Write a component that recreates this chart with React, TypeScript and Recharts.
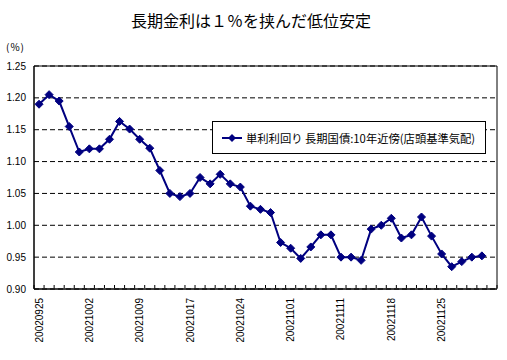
import React from 'react'
import {
  LineChart,
  Line,
  XAxis,
  YAxis,
  CartesianGrid,
  ReferenceArea,
  Legend,
} from 'recharts'

const dates = [
  '20020925', '20020926', '20020927', '20020930', '20021001',
  '20021002', '20021003', '20021004', '20021007', '20021008',
  '20021009', '20021010', '20021011', '20021015', '20021016',
  '20021017', '20021018', '20021021', '20021022', '20021023',
  '20021024', '20021025', '20021028', '20021029', '20021031',
  '20021101', '20021105', '20021106', '20021107', '20021108',
  '20021111', '20021112', '20021113', '20021114', '20021115',
  '20021118', '20021119', '20021120', '20021121', '20021122',
  '20021125', '20021126', '20021127', '20021128', '20021129',
]

const yields = [
  1.19, 1.205, 1.195, 1.155, 1.115,
  1.12, 1.12, 1.135, 1.163, 1.151,
  1.135, 1.121, 1.086, 1.05, 1.045,
  1.05, 1.075, 1.065, 1.08, 1.065,
  1.06, 1.03, 1.025, 1.02, 0.973,
  0.964, 0.948, 0.966, 0.985, 0.985,
  0.95, 0.95, 0.945, 0.994, 1.0,
  1.011, 0.98, 0.985, 1.013, 0.983,
  0.955, 0.935, 0.943, 0.95, 0.952,
]

const yTicks = [0.9, 0.95, 1.0, 1.05, 1.1, 1.15, 1.2, 1.25]
const slotCount = 46 // one empty slot at the right end
const labelTicks = [0, 5, 10, 15, 20, 25, 30, 35, 40]
const boundaryTicks = Array.from({ length: slotCount + 1 }, (_, i) => i - 0.5)

const seriesName = '単利利回り 長期国債:10年近傍(店頭基準気配)'
const NAVY = '#000080'

const data = yields.map((v, i) => ({ idx: i, date: dates[i], value: v }))

const numFont = '"Liberation Sans", Arial, sans-serif'
const jpFont = '"Noto Sans CJK JP", sans-serif'

const Diamond = (props: any) => {
  const { cx, cy } = props
  if (cx == null || cy == null) return null
  return (
    <path
      d={`M${cx},${cy - 4} L${cx + 4},${cy} L${cx},${cy + 4} L${cx - 4},${cy} Z`}
      fill={NAVY}
      stroke={NAVY}
    />
  )
}

// inward tick mark at each category boundary
const BoundaryTick = (props: any) => {
  const { x, y } = props
  return <line x1={x} x2={x} y1={y - 1} y2={y - 4} stroke="#000" strokeWidth={1} />
}

const DateTick = (props: any) => {
  const { x, y, payload } = props
  const label = dates[payload.value] ?? ''
  return (
    <text
      x={x}
      y={y}
      dy="0.35em"
      transform={`rotate(-90 ${x} ${y})`}
      textAnchor="end"
      fill="#000"
      fontSize={10}
      fontFamily={numFont}
    >
      {label}
    </text>
  )
}

const renderLegend = () => (
  <div
    style={{
      display: 'flex',
      alignItems: 'center',
      height: '100%',
      paddingLeft: 8,
      fontFamily: jpFont,
      fontSize: 11.3,
      color: '#000',
      whiteSpace: 'nowrap',
    }}
  >
    <svg width={22} height={10} style={{ marginRight: 3 }}>
      <line x1={1} y1={5} x2={21} y2={5} stroke={NAVY} strokeWidth={2} />
      <path d="M11,1 L15,5 L11,9 L7,5 Z" fill={NAVY} />
    </svg>
    <span>{seriesName}</span>
  </div>
)

const App = () => {
  return (
    <div
      style={{
        position: 'absolute',
        left: 0,
        top: 0,
        width: 507,
        height: 360,
        background: '#fff',
        overflow: 'hidden',
      }}
    >
      <div
        style={{
          position: 'absolute',
          left: 0,
          top: 9,
          width: 502,
          textAlign: 'center',
          fontFamily: jpFont,
          fontSize: 16,
          lineHeight: '22px',
          color: '#000',
        }}
      >
        長期金利は１％を挟んだ低位安定
      </div>
      <div
        style={{
          position: 'absolute',
          left: 6,
          top: 39,
          fontFamily: jpFont,
          fontSize: 10,
          lineHeight: '16px',
          letterSpacing: 1,
          color: '#000',
        }}
      >
        (%)
      </div>
      <div style={{ position: 'absolute', left: 0, top: 0 }}>
        <LineChart
          width={507}
          height={360}
          data={data}
          margin={{ top: 66, right: 10, bottom: 10, left: 0 }}
        >
          <CartesianGrid
            vertical={false}
            stroke="#000"
            strokeDasharray="5 3"
          />
          <XAxis
            dataKey="idx"
            type="number"
            domain={[-0.5, slotCount - 0.5]}
            ticks={boundaryTicks}
            interval={0}
            height={1}
            tick={<BoundaryTick />}
            tickLine={false}
            tickSize={0}
            tickMargin={0}
            stroke="#000"
            allowDataOverflow
          />
          <XAxis
            xAxisId="lab"
            dataKey="idx"
            type="number"
            domain={[-0.5, slotCount - 0.5]}
            ticks={labelTicks}
            interval={0}
            height={60}
            axisLine={false}
            tickLine={false}
            tickSize={0}
            tickMargin={8}
            tick={<DateTick />}
            allowDataOverflow
          />
          <YAxis
            type="number"
            domain={[0.9, 1.25]}
            ticks={yTicks}
            interval={0}
            width={34}
            tickLine={false}
            tickSize={0}
            tickMargin={8}
            stroke="#000"
            tick={{ fill: '#000', fontSize: 10, fontFamily: numFont }}
            tickFormatter={(v: number) => v.toFixed(2)}
            allowDataOverflow
          />
          <ReferenceArea
            x1={-0.5}
            x2={slotCount - 0.5}
            y1={0.9}
            y2={1.25}
            fill="none"
            fillOpacity={0}
            stroke="#000"
            strokeWidth={1}
            ifOverflow="visible"
          />
          <Legend
            layout="vertical"
            align="center"
            verticalAlign="middle"
            content={renderLegend}
            wrapperStyle={{
              left: 212,
              top: 121,
              width: 274,
              height: 33,
              border: '1px solid #000',
              background: '#fff',
              boxSizing: 'border-box',
            }}
          />
          <Line
            type="linear"
            dataKey="value"
            name={seriesName}
            stroke={NAVY}
            strokeWidth={2}
            dot={<Diamond />}
            activeDot={false}
            isAnimationActive={false}
          />
        </LineChart>
      </div>
    </div>
  )
}

export default App
